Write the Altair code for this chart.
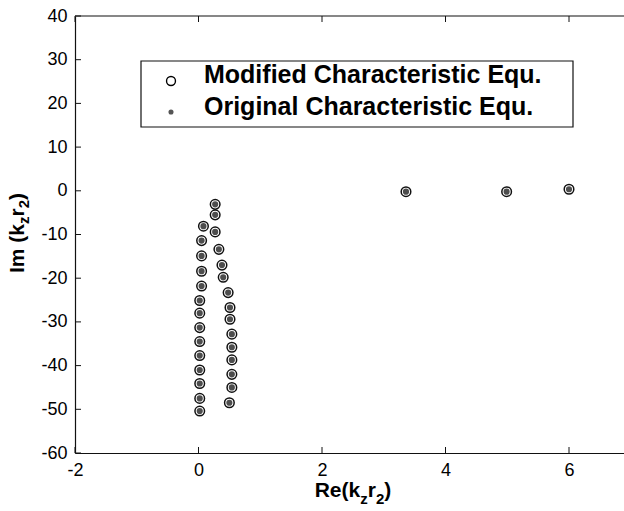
import altair as alt
import pandas as pd

# ---- data ----
modified_re = [0.08, 0.05, 0.05, 0.05, 0.05, 0.02, 0.02, 0.02, 0.02, 0.02, 0.02, 0.02, 0.02, 0.02,
               0.27, 0.27, 0.27, 0.33, 0.38, 0.40, 0.48, 0.51, 0.51, 0.54, 0.54, 0.54, 0.54, 0.54, 0.50,
               3.36, 4.99, 6.00]
modified_im = [-8.1, -11.4, -14.9, -18.4, -21.8, -25.1, -28.0, -31.3, -34.5, -37.7, -41.0, -44.1, -47.5, -50.4,
               -3.1, -5.5, -9.4, -13.4, -17.0, -19.8, -23.3, -26.7, -29.4, -32.8, -35.8, -38.7, -42.0, -45.0, -48.5,
               -0.2, -0.2, 0.35]
original_re = list(modified_re)
original_im = list(modified_im)

x_ticks = [-2, 0, 2, 4, 6]
y_ticks = [40, 30, 20, 10, 0, -10, -20, -30, -40, -50, -60]

legend_labels = ["Modified Characteristic Equ.", "Original Characteristic Equ."]

W, H = 549, 437
X_MIN = -2.0
X_MAX = -2.0 + W / 61.75
FONT = "Liberation Sans"

mod_df = pd.DataFrame({"re": modified_re, "im": modified_im})
orig_df = pd.DataFrame({"re": original_re, "im": original_im})
xt_df = pd.DataFrame({"re": x_ticks})
yt_df = pd.DataFrame({"im": y_ticks})
one = pd.DataFrame({"a": [0]})

xscale = alt.Scale(domain=[X_MIN, X_MAX], nice=False, zero=False)
yscale = alt.Scale(domain=[-60, 40], nice=False, zero=False)

xaxis = alt.Axis(values=x_ticks, title=None, grid=False, ticks=False, domain=True,
                 domainColor="#111111", domainWidth=1.2, labelFont=FONT, labelFontSize=18,
                 labelColor="black", labelPadding=8, labelFlush=False, labelOverlap=False,
                 labelExpr="'' + datum.value")
yaxis = alt.Axis(values=y_ticks, title=None, grid=False, ticks=False, domain=True,
                 domainColor="#111111", domainWidth=1.2, labelFont=FONT, labelFontSize=18,
                 labelColor="black", labelPadding=8, labelFlush=False, labelOverlap=False,
                 labelExpr="'' + datum.value")

X = lambda: alt.X("re:Q", scale=xscale, axis=xaxis)
Y = lambda: alt.Y("im:Q", scale=yscale, axis=yaxis)

modified = alt.Chart(mod_df).mark_point(
    shape="circle", filled=False, size=92, stroke="#111111", strokeWidth=1.5, opacity=1
).encode(x=X(), y=Y())

original = alt.Chart(orig_df).mark_circle(size=38, color="#4d4d4d", opacity=1).encode(x=X(), y=Y())

# inward ticks
left_ticks = alt.Chart(yt_df).mark_rule(color="#111111", strokeWidth=1).encode(
    y=Y(), x=alt.value(0), x2=alt.value(6))
bottom_ticks = alt.Chart(xt_df).mark_rule(color="#111111", strokeWidth=1).encode(
    x=X(), y=alt.value(H - 6), y2=alt.value(H))
top_ticks = alt.Chart(xt_df).mark_rule(color="#111111", strokeWidth=1).encode(
    x=X(), y=alt.value(0), y2=alt.value(6))
top_line = alt.Chart(one).mark_rule(color="#111111", strokeWidth=1.2).encode(
    x=alt.value(0), x2=alt.value(W), y=alt.value(0))

# legend box
leg_box = alt.Chart(one).mark_rect(fill="white", stroke="#111111", strokeWidth=1.2).encode(
    x=alt.value(66), x2=alt.value(498), y=alt.value(45), y2=alt.value(111))
leg_c = alt.Chart(one).mark_point(shape="circle", filled=False, size=80, stroke="black",
                                  strokeWidth=1.4, opacity=1).encode(x=alt.value(96), y=alt.value(65))
leg_d = alt.Chart(one).mark_circle(size=26, color="#555555", opacity=1).encode(
    x=alt.value(96), y=alt.value(96))
leg_t1 = alt.Chart(one).mark_text(text=legend_labels[0], font=FONT, fontSize=25, fontWeight="bold",
                                  align="left", baseline="alphabetic", color="black").encode(
    x=alt.value(129), y=alt.value(67))
leg_t2 = alt.Chart(one).mark_text(text=legend_labels[1], font=FONT, fontSize=25, fontWeight="bold",
                                  align="left", baseline="alphabetic", color="black").encode(
    x=alt.value(129), y=alt.value(99))


def piece(txt, x, y, size, angle=0):
    kw = dict(text=txt, font=FONT, fontSize=size, fontWeight="bold", align="left",
              baseline="alphabetic", color="black")
    if angle:
        kw["angle"] = angle
    return alt.Chart(one).mark_text(**kw).encode(x=alt.value(x), y=alt.value(y))


# x title: Re(k_z r_2)
xt = [
    piece("Re(k", 239.7, 481, 21),
    piece("z", 285.2, 488, 15),
    piece("r", 292.7, 481, 21),
    piece("2", 300.9, 488, 15),
    piece(")", 309.2, 481, 21),
]
# y title: Im (k_z r_2), rotated
yt = [
    piece("Im (k", -51, 257, 21, 270),
    piece("z", -46, 208, 15, 270),
    piece("r", -51, 200.5, 21, 270),
    piece("2", -46, 192.3, 15, 270),
    piece(")", -51, 184, 21, 270),
]

chart = alt.layer(
    modified, original, left_ticks, bottom_ticks, top_ticks, top_line,
    leg_box, leg_c, leg_d, leg_t1, leg_t2, *xt, *yt
).properties(
    width=W, height=H,
    padding={"left": 75, "top": 16, "right": 0, "bottom": 58},
    autosize=alt.AutoSizeParams(type="none"),
    background="white",
).configure_view(stroke=None)

chart.save("out.html", embed_options={"renderer": "svg", "actions": False})
